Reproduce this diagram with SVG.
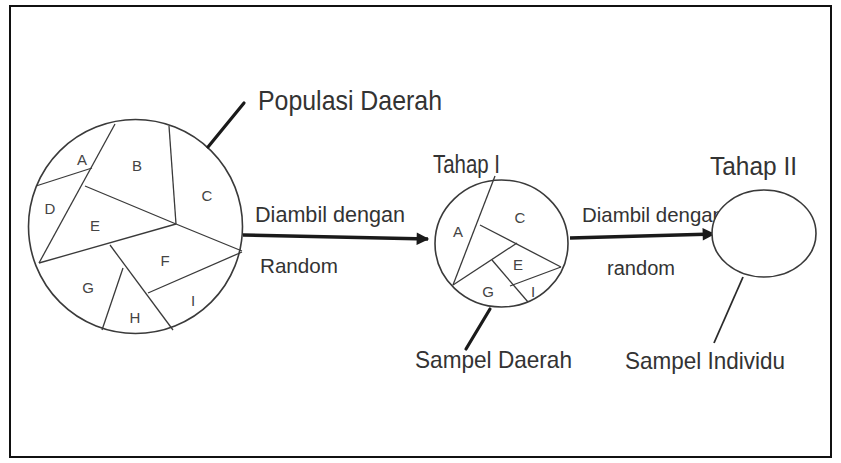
<svg xmlns="http://www.w3.org/2000/svg" width="841" height="463" viewBox="0 0 841 463">
<style>
.shape{fill:none;stroke:#3a3a3a;stroke-width:1.6}
.part{fill:none;stroke:#3a3a3a;stroke-width:1.3}
.lead{stroke:#1a1a1a;stroke-width:3.2;stroke-linecap:round}
.lead2{stroke:#2a2a2a;stroke-width:1.8}
.arrow{stroke:#1a1a1a;stroke-width:3.5;fill:none}
.t{font-family:"Liberation Sans",Arial,sans-serif;fill:#333}
.lbl{font-family:"Liberation Sans",Arial,sans-serif;fill:#444;font-size:15px;text-anchor:middle}
</style>
<defs>
<marker id="ah" viewBox="0 0 10 10" refX="9" refY="5" markerWidth="4" markerHeight="3.6" orient="auto" markerUnits="strokeWidth">
<path d="M0,0 L10,5 L0,10 z" fill="#1a1a1a"/>
</marker>
</defs>
<rect x="0" y="0" width="841" height="463" fill="#fff"/>
<rect x="10" y="6" width="821" height="451" fill="none" stroke="#111" stroke-width="2"/>

<g id="populasi">
<circle class="shape" cx="135.5" cy="226.5" r="107"/>
<line class="part" x1="115" y1="124" x2="39" y2="263"/>
<line class="part" x1="36" y1="186" x2="92" y2="168"/>
<line class="part" x1="169" y1="126" x2="176" y2="224"/>
<polyline class="part" points="85,186 176,224 242,251"/>
<line class="part" x1="39" y1="263" x2="176" y2="224"/>
<line class="part" x1="110" y1="245" x2="173" y2="330"/>
<line class="part" x1="148" y1="293" x2="242" y2="252"/>
<line class="part" x1="123" y1="268" x2="102" y2="330"/>
<text class="lbl" x="82" y="165">A</text>
<text class="lbl" x="137" y="171">B</text>
<text class="lbl" x="207" y="201">C</text>
<text class="lbl" x="50" y="214">D</text>
<text class="lbl" x="95" y="231">E</text>
<text class="lbl" x="165" y="266">F</text>
<text class="lbl" x="88" y="293">G</text>
<text class="lbl" x="135" y="323">H</text>
<text class="lbl" x="193" y="306">I</text>
<line class="lead" x1="208" y1="147" x2="244" y2="103"/>
<text class="t" x="258" y="110" font-size="28" textLength="184" lengthAdjust="spacingAndGlyphs">Populasi Daerah</text>
</g>

<g id="tahap1">
<text class="t" x="433" y="173" font-size="25" textLength="67" lengthAdjust="spacingAndGlyphs">Tahap I</text>
<ellipse class="shape" cx="501.5" cy="243.5" rx="66.5" ry="63.5"/>
<line class="part" x1="495" y1="176" x2="453" y2="285"/>
<line class="part" x1="480" y1="225" x2="561" y2="267"/>
<line class="part" x1="453" y1="285" x2="517" y2="243"/>
<line class="part" x1="492" y1="260" x2="528" y2="302"/>
<line class="part" x1="510" y1="286" x2="561" y2="267"/>
<text class="lbl" x="458" y="237" font-size="13">A</text>
<text class="lbl" x="520" y="223" font-size="13">C</text>
<text class="lbl" x="518" y="270" font-size="13">E</text>
<text class="lbl" x="488" y="297" font-size="13">G</text>
<text class="lbl" x="533" y="297" font-size="11">I</text>
<line class="lead" x1="490" y1="309" x2="466" y2="349"/>
<text class="t" x="415" y="368" font-size="24" textLength="157" lengthAdjust="spacingAndGlyphs">Sampel Daerah</text>
</g>

<g id="connectors">
<line class="arrow" x1="243" y1="235" x2="428" y2="239" marker-end="url(#ah)"/>
<line class="arrow" x1="570" y1="238" x2="714" y2="234" marker-end="url(#ah)"/>
<text class="t" x="255" y="222" font-size="22" textLength="150" lengthAdjust="spacingAndGlyphs">Diambil  dengan</text>
<text class="t" x="260" y="273" font-size="21" textLength="78" lengthAdjust="spacingAndGlyphs">Random</text>
<text class="t" x="582" y="222" font-size="21" textLength="142" lengthAdjust="spacingAndGlyphs">Diambil dengan</text>
<text class="t" x="607" y="275" font-size="20" textLength="68" lengthAdjust="spacingAndGlyphs">random</text>
</g>

<g id="tahap2">
<text class="t" x="710" y="175" font-size="25" textLength="87" lengthAdjust="spacingAndGlyphs">Tahap II</text>
<ellipse cx="764" cy="233.5" rx="52" ry="43.5" fill="#fff" stroke="#3a3a3a" stroke-width="1.6"/>
<line class="lead2" x1="743" y1="277" x2="714" y2="343"/>
<text class="t" x="625" y="369" font-size="24" textLength="160" lengthAdjust="spacingAndGlyphs">Sampel Individu</text>
</g>
</svg>
